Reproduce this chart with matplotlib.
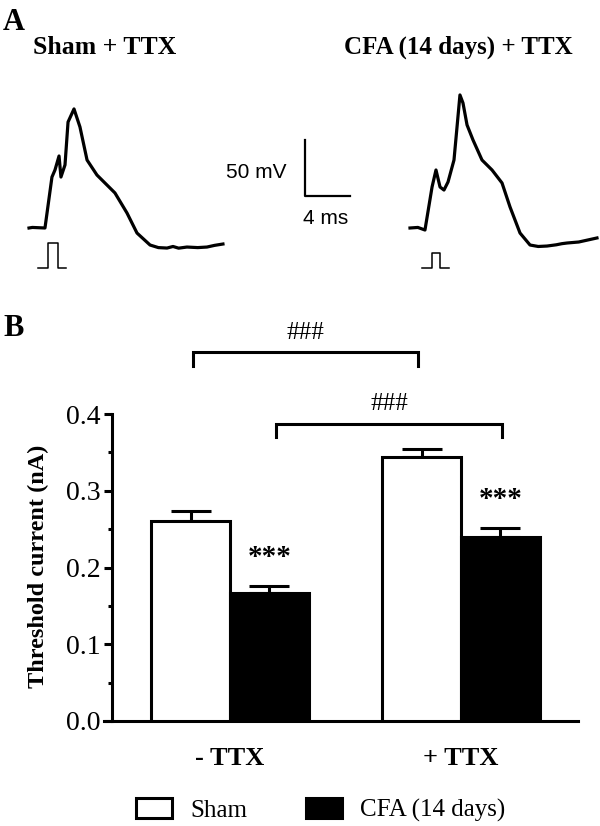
import matplotlib
matplotlib.use("Agg")
import matplotlib.pyplot as plt
import numpy as np

W, H = 600, 826
SERIF = "Liberation Serif"
SANS = "Liberation Sans"

# ---- Panel B data: threshold current (nA) ----
groups = ["- TTX", "+ TTX"]
series = ["Sham", "CFA (14 days)"]
sham_mean = [0.261, 0.3435]
sham_sem = [0.0125, 0.0105]
cfa_mean = [0.167, 0.240]
cfa_sem = [0.009, 0.012]

# ---- Panel A data: example action potentials (ms, mV from rest) ----
sham_t = [0, 0.3, 1.42, 2.04, 2.31, 2.67, 2.84, 3.2, 3.47, 4.0, 4.53, 5.16,
          6.04, 6.93, 7.64, 8.71, 9.6, 10.76, 11.5, 12.27, 12.8, 13.3, 14.04,
          15.0, 15.82, 16.5, 17.24]
sham_v = [0, 0.5, 0, 45.5, 51.8, 64.3, 45.5, 56.3, 94.6, 106.3, 90.2, 60.7,
          47.3, 38.4, 31.3, 13.4, -4.5, -15.2, -17.5, -17.9, -16.5, -18.0, -17.0,
          -17.5, -17.0, -15.5, -14.3]
cfa_t = [0, 0.7, 1.33, 1.96, 2.31, 2.67, 3.02, 3.38, 3.91, 4.18, 4.44, 4.71,
         5.07, 5.6, 6.4, 7.29, 8.18, 8.89, 9.78, 10.67, 11.4, 12.18, 13.0, 13.5,
         13.96, 15.0, 16.62]
cfa_v = [0, 0.5, -1.8, 36.6, 51.8, 36.6, 33.9, 41.1, 60.7, 90.2, 118.8, 111.6,
         92.0, 78.6, 60.7, 51.8, 40.2, 18.8, -4.5, -15.2, -16.5, -16.1, -15.0, -14.0,
         -13.4, -12.5, -8.9]
# stimulus pulses: (start, on, off, end) in ms, amplitude in drawing units
sham_pulse = [0.8, 1.69, 2.58, 3.29]
cfa_pulse = [1.07, 1.96, 2.67, 3.47]
sham_pulse_amp = 22.3
cfa_pulse_amp = 13.4

fig = plt.figure(figsize=(W / 100, H / 100), dpi=100)


def fx(x):
    return x / W


def fy(y):
    return 1 - y / H


# ---------------- Panel A ----------------
axA = fig.add_axes([0, fy(300), 1, 300 / H])
axA.set_xlim(0, W / 11.25)
axA.set_ylim(-72 / 1.12, 228 / 1.12)
axA.axis("off")

pulse_base = -40 / 1.12
for t0, tt, vv, p, amp in [(29 / 11.25, sham_t, sham_v, sham_pulse, sham_pulse_amp),
                           (410 / 11.25, cfa_t, cfa_v, cfa_pulse, cfa_pulse_amp)]:
    axA.plot(np.array(tt) + t0, vv, color="black", lw=2.3, solid_joinstyle="round")
    px_ = [p[0], p[1], p[1], p[2], p[2], p[3]]
    py_ = [0, 0, amp, amp, 0, 0]
    axA.plot(np.array(px_) + t0, np.array(py_) + pulse_base, color="black", lw=1.1)

# scale bar 50 mV / 4 ms
sb_t, sb_v = 305 / 11.25, (228 - 196) / 1.12
axA.plot([sb_t, sb_t, sb_t + 4], [sb_v + 50, sb_v, sb_v], color="black", lw=1.6)

fig.text(fx(287), fy(173), "50 mV", family=SANS, fontsize=15, ha="right", va="center")
fig.text(fx(303), fy(219), "4 ms", family=SANS, fontsize=15, ha="left", va="center")

fig.text(fx(3), fy(8), "A", family=SERIF, fontsize=22, fontweight="bold", ha="left", va="top")
fig.text(fx(105), fy(47), "Sham + TTX", family=SERIF, fontsize=18.5, fontweight="bold",
         ha="center", va="center")
fig.text(fx(458), fy(47), "CFA (14 days) + TTX", family=SERIF, fontsize=18, fontweight="bold",
         ha="center", va="center")

# ---------------- Panel B ----------------
fig.text(fx(3), fy(314), "B", family=SERIF, fontsize=22, fontweight="bold", ha="left", va="top")

ax_l, ax_r, ax_t, ax_b = 104, 578, 414, 721
ax = fig.add_axes([fx(ax_l), fy(ax_b), (ax_r - ax_l) / W, (ax_b - ax_t) / H])
unit = 231.0
ax.set_xlim((ax_l - 230) / unit, (ax_r - 230) / unit)
ax.set_ylim(0, 0.4)

x = np.arange(len(groups))
w = 0.34
lw = 2.2
b1 = ax.bar(x - w / 2, sham_mean, w, facecolor="white", edgecolor="black", linewidth=lw,
            label=series[0], zorder=3)
b2 = ax.bar(x + w / 2, cfa_mean, w, facecolor="black", edgecolor="black", linewidth=lw,
            label=series[1], zorder=3)
for xs, m, s in [(x - w / 2, sham_mean, sham_sem), (x + w / 2, cfa_mean, cfa_sem)]:
    ax.errorbar(xs, m, yerr=[np.zeros(len(s)), s], fmt="none", ecolor="black",
                elinewidth=lw, capsize=14.4, capthick=lw, zorder=2)

for sp in ["top", "right"]:
    ax.spines[sp].set_visible(False)
ax.spines["left"].set_position(("axes", (112 - ax_l) / (ax_r - ax_l)))
ax.spines["left"].set_bounds(0, 0.4)
for sp in ["left", "bottom"]:
    ax.spines[sp].set_linewidth(lw)

ax.set_yticks([0.0, 0.1, 0.2, 0.3, 0.4])
ax.set_yticklabels(["0.0", "0.1", "0.2", "0.3", "0.4"], family=SERIF, fontsize=20)
ax.set_yticks([0.05, 0.15, 0.25, 0.35], minor=True)
ax.tick_params(axis="y", which="major", length=6, width=lw, pad=2)
ax.tick_params(axis="y", which="minor", length=3, width=lw)
ax.set_xticks(x)
ax.set_xticklabels(groups, family=SERIF, fontsize=19, fontweight="bold")
ax.tick_params(axis="x", length=0, pad=19)

fig.text(fx(38), fy(566), "Threshold current (nA)", family=SERIF, fontsize=17.5,
         fontweight="bold", rotation=90, ha="center", va="center")


def ypx(y):
    return (ax_b - y) / (ax_b - ax_t) * 0.4


def xpx(xp):
    return (xp - 230) / unit


# significance brackets
brackets = [(193, 418, 352, 366, 333), (276, 502, 424, 437, 404)]
for xl, xr, yh, yd, yt in brackets:
    ax.plot([xpx(xl), xpx(xl), xpx(xr), xpx(xr)], [ypx(yd), ypx(yh), ypx(yh), ypx(yd)],
            color="black", lw=lw, clip_on=False, solid_joinstyle="miter")
    ax.text(xpx((xl + xr) / 2), ypx(yt), "###", family=SERIF, fontsize=18,
            ha="center", va="center")

for xs, m, s in zip(x + w / 2, cfa_mean, cfa_sem):
    ax.text(xs, m + s + 0.037, "***", family=SERIF, fontsize=21, fontweight="bold",
            ha="center", va="center")

fig.legend(handles=[b1, b2], labels=series, loc="center", bbox_to_anchor=(fx(320.5), fy(810)),
           ncol=2, frameon=False, prop={"family": SERIF, "size": 18},
           handlelength=1.44, handleheight=0.85, handletextpad=0.72, columnspacing=2.36,
           borderpad=0, borderaxespad=0)

fig.savefig("out.png", dpi=100)
